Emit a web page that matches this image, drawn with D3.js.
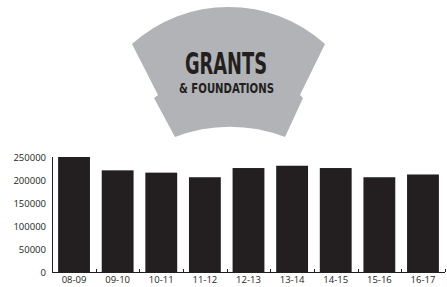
<!DOCTYPE html>
<html>
<head>
<meta charset="utf-8">
<script src="https://cdn.jsdelivr.net/npm/d3@7"></script>
<style>
  body { margin: 0; background: #fff; }
  svg { display: block; }
</style>
</head>
<body>
<svg id="chart" width="447" height="287"></svg>
<script>
const years = ["08-09", "09-10", "10-11", "11-12", "12-13", "13-14", "14-15", "15-16", "16-17"];
const amounts = [250000, 221000, 216000, 206000, 226000, 231000, 226000, 206000, 212000];
const yTicks = [0, 50000, 100000, 150000, 200000, 250000];

const svg = d3.select("#chart");
const ink = "#231f20";

// banner shape behind the title
const banner = "M132,44 A144,144 0 0,1 325,44 L300,95 L303,98 L285,137 A152,152 0 0,0 175,137 L154,98 L158,95 Z";
svg.append("path")
  .attr("d", banner)
  .attr("fill", "#b1b3b6");

svg.append("text")
  .attr("x", 185).attr("y", 74)
  .attr("textLength", 82).attr("lengthAdjust", "spacingAndGlyphs")
  .style("font-family", "'Liberation Sans Narrow', 'DejaVu Sans Condensed', sans-serif")
  .style("font-weight", "bold")
  .style("font-size", "30px")
  .attr("fill", ink)
  .text("GRANTS");

svg.append("text")
  .attr("x", 179).attr("y", 93)
  .attr("textLength", 95).attr("lengthAdjust", "spacingAndGlyphs")
  .style("font-family", "'Liberation Sans Narrow', 'DejaVu Sans Condensed', sans-serif")
  .style("font-weight", "bold")
  .style("font-size", "14px")
  .attr("fill", ink)
  .text("& FOUNDATIONS");

// chart
const x = d3.scaleBand()
  .domain(years)
  .range([52, 445])
  .paddingInner(0.27)
  .paddingOuter(0.14);

const y = d3.scaleLinear()
  .domain([0, 250000])
  .range([272, 157]);

svg.append("g")
  .attr("fill", ink)
  .selectAll("rect")
  .data(years)
  .join("rect")
    .attr("x", d => x(d))
    .attr("y", (d, i) => y(amounts[i]))
    .attr("width", x.bandwidth())
    .attr("height", (d, i) => y(0) - y(amounts[i]));

// y axis
const yAxis = svg.append("g")
  .attr("transform", "translate(52,0)")
  .call(d3.axisLeft(y).tickValues(yTicks).tickSize(0).tickPadding(6).tickFormat(d3.format("d")));
yAxis.select(".domain").attr("stroke", ink).attr("d", `M0.5,${y(250000)}V${y(0)}`);
yAxis.selectAll("text")
  .style("font-family", "'Open Sans', sans-serif")
  .style("font-size", "9.5px")
  .attr("fill", ink);

// x axis
const xAxis = svg.append("g")
  .attr("transform", `translate(0,${y(0)})`)
  .call(d3.axisBottom(x).tickSize(0).tickPadding(4));
xAxis.select(".domain").attr("stroke", ink).attr("d", "M52,0.5H445");
xAxis.selectAll("text")
  .style("font-family", "'Open Sans', sans-serif")
  .style("font-size", "9.5px")
  .attr("fill", ink);

// small tick marks between bars
const gap = x.step() * x.paddingInner();
xAxis.append("g")
  .selectAll("line")
  .data(years)
  .join("line")
    .attr("x1", d => Math.round(x(d) + x.bandwidth() + gap / 2) + 0.5)
    .attr("x2", d => Math.round(x(d) + x.bandwidth() + gap / 2) + 0.5)
    .attr("y1", 0)
    .attr("y2", -3)
    .attr("stroke", ink);
</script>
</body>
</html>
